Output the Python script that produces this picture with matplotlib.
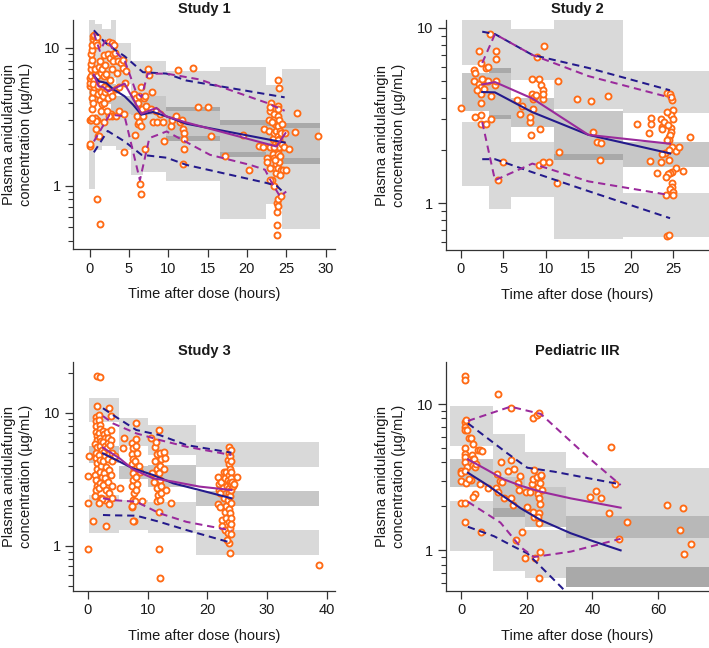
import matplotlib
matplotlib.use("Agg")
import matplotlib.pyplot as plt
from matplotlib.ticker import FixedLocator, LogLocator, NullFormatter, FixedFormatter
import numpy as np

plt.rcParams['font.family'] = ['Liberation Sans', 'DejaVu Sans']
plt.rcParams['font.size'] = 10

NAVY = '#241a8c'
PURPLE = '#9a2a9c'
ORANGE = '#ff6a14'
TXT = '#1a1a1a'

# ---------------- Study 1 ----------------
s1_bin_lo = [-0.08, 0.72, 1.57, 2.76, 3.39, 5.30, 6.79, 9.76, 16.55, 22.49, 24.52]
s1_bin_hi = [0.72, 1.57, 2.76, 3.39, 5.30, 6.79, 9.76, 16.55, 22.49, 24.52, 29.27]
s1_up_lo = [6.5, 6.5, 6.0, 6.0, 5.5, 4.5, 4.45, 3.51, 2.77, 2.7, 2.62]
s1_up_hi = [17.0, 15.0, 13.6, 17.0, 10.9, 8.0, 8.0, 6.85, 7.24, 5.42, 7.08]
s1_med_lo = [4.0, 4.0, 3.9, 3.4, 3.3, 3.28, 3.28, 2.13, 1.63, 1.55, 1.445]
s1_med_hi = [6.7, 6.6, 6.1, 5.5, 4.5, 4.45, 4.45, 3.73, 3.01, 2.9, 2.85]
s1_low_lo = [0.945, 1.83, 1.93, 1.93, 1.83, 1.2, 1.27, 1.09, 0.573, 0.74, 0.49]
s1_low_hi = [3.0, 3.3, 3.3, 3.4, 3.3, 3.28, 3.28, 2.28, 1.75, 1.65, 1.59]

s1_navy_med_t = [0.55, 1.19, 2.12, 2.97, 4.45, 5.52, 6.58, 8.06, 9.76, 12.3, 24.8]
s1_navy_med_v = [6.3, 5.72, 5.57, 5.04, 4.46, 3.88, 3.28, 3.43, 3.19, 2.82, 2.06]
s1_purple_med_t = [0.55, 1.15, 1.70, 2.42, 4.45, 6.58, 8.49, 9.76, 12.3, 23.76, 24.9]
s1_purple_med_v = [6.4, 5.27, 5.21, 4.84, 5.51, 3.33, 3.67, 3.19, 2.88, 1.93, 2.41]
s1_navy_hi_t = [0.55, 1.91, 3.18, 4.45, 6.79, 9.76, 12.3, 24.8]
s1_navy_hi_v = [13.4, 11.0, 9.72, 8.7, 6.66, 6.51, 5.8, 4.38]
s1_purple_hi_t = [0.55, 1.3, 2.1, 3.2, 4.5, 5.9, 6.6, 7.4, 9.8, 14.0, 22.5, 24.8]
s1_purple_hi_v = [12.8, 9.5, 11.5, 9.5, 8.0, 4.8, 4.4, 6.5, 6.5, 5.9, 4.0, 3.5]
s1_navy_lo_t = [0.55, 2.3, 4.45, 6.6, 9.8, 12.3, 22.5, 23.8, 24.8]
s1_navy_lo_v = [1.75, 2.5, 2.1, 1.68, 1.6, 1.42, 1.05, 1.0, 0.88]
s1_purple_lo_t = [0.55, 2.55, 4.45, 6.4, 7.6, 9.8, 15.3, 20.4, 22.3, 23.1, 24.2, 25.0]
s1_purple_lo_v = [2.1, 3.28, 3.2, 1.1, 2.22, 2.48, 1.68, 1.42, 1.31, 1.07, 0.84, 0.91]

s1_obs_t = [0.0, 0.0, 0.05, 0.0, 0.1, 0.1, 0.15, 0.2, 0.2, 0.25, 0.2, 0.3, 0.35, 0.4, 0.5, 0.55,
            0.3, 0.3, 0.4, 0.5, 0.6, 0.7, 0.8, 0.9, 0.9, 0.7, 0.6, 0.5, 0.9, 0.8, 0.9, 1.3, 0.7, 0.8, 0.2, 0.35,
            1.0, 1.1, 1.1, 1.2, 1.3, 1.3, 1.4, 1.5, 1.5, 1.6, 1.6, 1.7, 1.8, 1.8, 1.9, 1.9, 2.0, 2.0, 1.8, 1.1, 1.2, 1.5,
            2.1, 2.2, 2.3, 2.3, 2.5, 2.6, 2.6, 2.6, 2.7, 2.8, 2.8, 2.9, 2.9, 3.0, 3.0, 2.5, 2.2,
            3.1, 3.2, 3.3, 3.4, 3.5, 3.6, 3.7, 3.8, 4.0, 4.2, 4.3, 4.4, 4.4, 4.5, 4.6,
            5.6, 5.8, 5.9, 6.0, 6.1, 6.2, 6.3, 6.3, 6.4, 6.5, 6.5, 6.6, 6.7, 6.8, 6.9, 7.0, 7.1, 7.2, 7.4, 7.6,
            7.8, 7.9, 8.1, 8.4, 8.6,
            9.0, 9.3, 9.5, 10.3, 10.5, 11.0, 11.2, 11.5, 11.8, 11.9, 12.0, 12.0, 12.0, 11.9, 13.1, 13.8, 15.1,
            15.5, 17.2, 19.5, 20.3,
            21.5, 22.0, 22.2, 22.5, 22.6, 22.8, 22.8, 22.9, 23.0, 23.0, 23.1, 23.2, 23.3, 23.3, 23.4, 23.5,
            23.5, 23.5, 23.6, 23.6, 23.7, 23.7, 23.7, 23.8, 23.8, 23.8, 23.8, 23.9, 23.9, 23.9, 23.9, 23.9,
            23.9, 24.0, 24.0, 24.0, 24.0, 24.0, 24.0, 24.0, 24.0, 24.0, 24.1, 24.1, 24.1, 24.1, 24.1, 24.2,
            24.2, 24.3, 24.3, 24.3, 24.4, 24.5, 24.6, 24.7, 24.8, 25.0, 25.3, 26.1, 26.4, 29.1, 22.9, 23.0,
            23.2, 23.4, 23.6, 24.0, 24.2]
s1_obs_v = [1.95, 2.0, 3.0, 5.3, 5.6, 6.0, 6.3, 7.0, 7.6, 8.2, 9.0, 9.6, 10.5, 11.5, 12.1, 12.3,
            4.3, 3.6, 4.0, 4.8, 5.2, 6.5, 11.0, 12.0, 10.5, 7.0, 5.8, 5.5, 3.0, 2.6, 0.8, 0.53, 3.1, 2.95, 3.0, 3.1,
            6.2, 5.3, 4.6, 7.3, 8.0, 4.2, 6.6, 4.8, 5.5, 7.0, 3.9, 4.5, 5.2, 8.8, 6.2, 4.0, 4.8, 7.5, 2.9, 2.3, 2.3, 3.5,
            6.5, 5.0, 4.3, 9.0, 11.0, 4.8, 5.8, 8.5, 3.3, 10.8, 7.0, 4.5, 3.2, 9.0, 8.0, 3.2, 3.5,
            10.5, 9.2, 3.2, 5.0, 6.6, 8.0, 5.2, 3.5, 7.8, 8.2, 7.2, 1.75, 3.3, 5.6, 6.8,
            4.6, 2.35, 4.3, 3.2, 4.0, 2.8, 2.9, 4.5, 1.03, 0.87, 2.7, 5.2, 3.6, 3.2, 4.3, 4.5, 1.85, 3.8, 7.0, 6.4,
            3.6, 4.8, 2.9, 3.5, 2.9,
            3.3, 2.9, 2.1, 2.7, 3.0, 3.2, 6.9, 2.9, 3.0, 2.6, 2.4, 2.2, 1.85, 1.45, 7.2, 3.7, 3.7,
            2.3, 1.65, 2.35, 1.3,
            1.95, 1.9, 2.6, 1.6, 1.5, 2.5, 3.0, 3.5, 1.9, 1.35, 4.0, 1.1, 2.2, 1.7, 2.4, 1.6,
            1.0, 3.3, 2.8, 2.0, 2.5, 1.45, 1.25, 0.75, 0.65, 0.52, 0.44, 3.8, 3.2, 2.3, 2.1, 1.8,
            1.55, 5.8, 3.6, 2.9, 2.7, 1.95, 1.7, 1.35, 0.8, 0.72, 5.1, 3.0, 2.2, 1.9, 1.5, 2.5,
            1.65, 2.4, 1.3, 0.85, 2.8, 2.0, 1.3, 1.9, 2.4, 1.3, 1.85, 2.45, 3.4, 2.3, 1.1, 3.7,
            2.9, 1.9, 1.55, 2.15, 1.2]

# ---------------- Study 2 ----------------
s2_bin_lo = [0.08, 3.3, 5.85, 10.95, 19.03]
s2_bin_hi = [3.3, 5.85, 10.95, 19.03, 29.5]
s2_up_lo = [6.12, 5.5, 5.03, 3.46, 3.25]
s2_up_hi = [12.0, 12.0, 9.8, 12.0, 5.66]
s2_med_lo = [3.36, 3.0, 2.72, 1.76, 1.61]
s2_med_hi = [5.49, 5.86, 3.99, 3.36, 2.22]
s2_low_lo = [1.256, 0.924, 1.09, 0.626, 0.643]
s2_low_hi = [2.9, 3.18, 2.22, 1.9, 1.135]

s2_t = [2.5, 4.0, 8.4, 15.0, 24.6]
s2_navy_med_v = [4.3, 4.28, 3.3, 2.45, 1.92]
s2_purple_med_v = [4.75, 4.9, 3.95, 2.45, 2.18]
s2_navy_hi_v = [9.5, 9.2, 7.0, 5.9, 4.4]
s2_purple_hi_v = [6.3, 9.2, 7.0, 5.3, 4.0]
s2_navy_lo_v = [1.78, 1.78, 1.5, 1.17, 0.82]
s2_purple_lo_v = [2.9, 1.35, 1.68, 1.33, 1.11]

s2_obs_t = [0.0, 2.1, 2.4, 3.0, 3.2, 1.5, 1.7, 1.5, 2.1, 2.4, 2.7, 3.0, 3.2, 2.5, 2.3, 2.4, 2.4, 1.7,
            2.3, 3.0, 3.5, 3.5, 4.0, 4.1, 4.1, 4.1, 3.4, 4.4, 4.9, 2.7, 1.9,
            6.6, 7.0, 7.2, 8.1, 8.3, 8.3, 8.5, 8.5, 8.6, 8.8, 9.0, 9.2, 9.3, 9.4, 9.6, 9.6, 9.6, 8.2, 8.1,
            9.8, 9.2, 9.7, 10.4, 11.3, 11.4, 11.5, 13.7, 15.3, 15.5, 16.0, 16.5, 16.3, 17.3,
            20.7, 22.1, 22.4, 22.4, 22.3, 23.1, 23.5, 23.6, 23.6, 23.5, 23.9, 24.0, 24.2, 24.6, 24.8, 24.7,
            25.0, 24.7, 24.9, 24.5, 24.7, 24.7, 24.6, 24.5, 24.8, 24.5, 25.3, 25.7, 24.5, 25.3, 26.1, 24.8,
            24.6, 24.4, 24.8, 24.8, 24.6, 24.9, 25.0, 24.1, 24.2, 24.5, 27.0, 23.6, 24.2, 24.3, 24.4, 24.1]
s2_obs_v = [3.5, 7.4, 6.3, 5.86, 6.0, 5.74, 5.53, 5.0, 4.77, 4.57, 5.0, 5.0, 5.0, 5.1, 4.17, 3.7, 3.18, 3.08,
            2.81, 2.81, 3.0, 4.09, 4.7, 5.0, 6.6, 7.4, 9.2, 1.35, 1.72, 4.5, 4.4,
            3.87, 3.21, 3.57, 2.91, 5.1, 4.18, 3.9, 3.46, 4.05, 4.13, 6.83, 5.1, 2.66, 4.7, 4.41, 3.9, 4.2, 2.44, 3.08,
            7.85, 1.65, 1.71, 1.71, 1.3, 5.0, 1.96, 3.9, 3.8, 2.55, 2.24, 2.2, 1.77, 4.1,
            2.82, 2.5, 3.04, 2.84, 1.74, 1.48, 3.0, 2.73, 2.63, 1.72, 2.91, 1.92, 4.26, 4.19, 3.87, 4.05,
            3.39, 3.18, 3.0, 2.39, 2.67, 2.55, 2.44, 2.29, 2.1, 2.0, 1.98, 2.1, 1.77, 1.58, 1.53, 1.51,
            1.48, 1.46, 1.3, 1.24, 1.21, 1.16, 1.11, 1.11, 0.65, 0.66, 2.39, 1.9, 2.29, 3.3, 2.8, 1.4]

# ---------------- Study 3 ----------------
s3_bin_lo = [0.17, 5.2, 10.07, 18.07]
s3_bin_hi = [5.2, 10.07, 18.07, 38.77]
s3_up_lo = [8.56, 5.62, 4.8, 3.93]
s3_up_hi = [13.0, 9.06, 8.08, 5.98]
s3_med_lo = [4.16, 3.17, 2.78, 2.0]
s3_med_hi = [5.62, 3.97, 4.04, 2.59]
s3_low_lo = [1.24, 1.3, 1.24, 0.851]
s3_low_hi = [2.4, 2.2, 2.14, 1.31]

s3_med_t = [2.52, 5.31, 7.55, 10.9, 14.3, 18.7, 24.05]
s3_navy_med_v = [4.94, 4.28, 3.81, 3.4, 2.94, 2.62, 2.27]
s3_purple_med_v = [5.46, 4.53, 3.75, 3.21, 3.03, 2.78, 2.62]
s3_q_t = [2.52, 4.2, 8.1, 12.0, 16.5, 24.05]
s3_navy_hi_v = [10.8, 9.6, 7.41, 6.79, 5.71, 5.0]
s3_purple_hi_v = [9.43, 8.3, 6.99, 6.23, 5.55, 4.8]
s3_navy_lo_v = [1.70, 1.69, 1.68, 1.51, 1.31, 1.05]
s3_purple_lo_v = [2.27, 2.2, 2.14, 1.75, 1.51, 1.30]

s3_obs_t = [1.3, 1.3, 1.4, 1.4, 1.5, 1.5, 1.2, 1.6, 1.4, 1.3, 1.5, 1.6, 1.2, 1.4, 1.5, 1.3, 1.2,
            1.9, 1.9, 2.0, 2.1, 1.9, 2.0, 2.2, 2.0, 2.3, 1.9, 2.1, 2.2, 2.0, 2.3, 2.1, 1.9, 2.2,
            2.6, 2.7, 2.8, 2.6, 2.9, 2.7, 2.8, 2.6, 3.0, 2.7, 2.9, 2.6, 3.0, 2.8,
            3.2, 3.3, 3.4, 3.2, 3.5, 3.3, 3.6, 3.4, 3.6, 3.8, 3.9, 3.7, 4.0, 4.1, 3.9, 4.0, 4.1, 3.8,
            2.4, 3.5, 1.8,
            0.0, 0.17, 0.0, 0.0, 0.84, 1.5, 1.96, 1.5, 2.96, 3.6, 4.6, 5.3, 6.0, 5.8,
            7.4, 7.5, 7.3, 7.6, 7.4, 7.7, 7.5, 7.6, 7.4, 7.7, 7.5, 7.3, 8.0, 8.1, 8.2, 7.9, 8.2, 8.0,
            8.3, 8.1, 7.9, 8.6, 8.8, 9.0, 7.7, 8.0, 7.4, 7.55,
            11.3, 11.5, 11.2, 11.6, 11.4, 11.7, 11.5, 11.8, 11.6, 11.9, 12.0, 12.2, 12.1, 11.9, 12.1, 12.3,
            12.2, 12.0, 12.7, 12.9, 13.0, 12.8, 11.0, 10.8, 11.9, 11.4, 10.5, 11.9, 12.0, 14.0,
            21.8, 22.0, 21.9, 21.8, 22.3, 22.2, 22.5, 22.4, 22.6, 22.8, 22.9, 22.8, 23.0, 23.0, 23.1, 23.2,
            23.2, 23.3, 23.4, 23.4, 23.5, 23.5, 23.6, 23.6, 23.6, 23.7, 23.7, 23.7, 23.7, 23.7, 23.7, 23.8,
            23.8, 23.8, 23.8, 23.8, 23.8, 23.8, 23.9, 23.9, 23.9, 23.9, 23.9, 23.9, 23.9, 24.0, 24.0, 24.0,
            24.2, 24.3, 24.5, 25.0, 22.2, 23.3, 38.8]
s3_obs_v = [9.3, 8.7, 8.0, 7.2, 6.7, 6.2, 5.8, 5.5, 5.0, 4.6, 4.2, 3.8, 3.4, 3.1, 2.8, 2.6, 2.35,
            9.6, 8.8, 8.1, 7.5, 7.0, 6.5, 6.1, 5.6, 5.2, 4.8, 4.4, 4.0, 3.6, 3.3, 2.95, 2.7, 2.3,
            7.3, 6.9, 6.4, 6.0, 5.6, 5.1, 4.7, 4.3, 3.9, 3.5, 3.2, 2.85, 2.6, 2.2,
            7.1, 6.5, 5.9, 5.4, 4.9, 4.5, 3.7, 3.0, 2.5, 7.4, 6.2, 5.7, 5.0, 4.3, 3.4, 2.8, 2.3, 9.4,
            2.25, 2.05, 2.1,
            0.94, 4.75, 3.33, 2.08, 1.52, 18.8, 18.4, 11.2, 1.4, 10.8, 4.7, 2.73, 6.5, 5.45,
            5.9, 5.4, 4.9, 4.5, 4.1, 3.8, 3.5, 3.1, 2.8, 2.5, 2.2, 1.95, 6.3, 5.6, 5.0, 4.3, 3.9, 3.3,
            2.9, 2.6, 2.15, 4.0, 3.6, 2.15, 1.52, 8.3, 2.0, 1.52,
            5.5, 4.9, 4.3, 3.8, 3.3, 3.0, 2.7, 2.4, 2.15, 1.8, 5.0, 4.5, 4.0, 3.5, 3.1, 2.8,
            2.5, 2.2, 5.1, 4.6, 2.6, 3.8, 3.0, 3.5, 7.4, 6.0, 6.5, 0.94, 0.575, 2.1,
            3.3, 2.9, 2.6, 2.05, 3.0, 2.5, 1.55, 1.4, 2.7, 3.6, 3.2, 2.3, 1.8, 1.3, 2.0, 3.6,
            1.6, 2.8, 2.2, 1.25, 4.4, 3.1, 2.5, 1.9, 1.5, 5.5, 5.0, 4.1, 3.4, 2.7, 1.05, 4.7,
            3.8, 3.0, 2.35, 1.75, 1.35, 0.88, 5.2, 4.3, 3.6, 2.9, 2.1, 1.6, 1.22, 3.2, 2.6, 1.45,
            3.0, 2.8, 2.9, 3.3, 1.95, 1.1, 0.716]

# ---------------- Pediatric IIR ----------------
s4_bin_lo = [-3.45, 9.75, 19.4, 32.1]
s4_bin_hi = [9.75, 19.4, 32.1, 80.0]
s4_up_lo = [5.18, 3.2, 2.73, 1.21]
s4_up_hi = [9.74, 6.26, 4.74, 3.68]
s4_med_lo = [2.73, 1.70, 1.45, 0.564]
s4_med_hi = [4.2, 3.2, 2.73, 0.773]
s4_low_lo = [0.99, 0.726, 0.643, 0.564]
s4_low_hi = [2.18, 1.94, 1.38, 1.72]

s4_med_t = [2.1, 8.0, 13.1, 18.2, 24.3, 33.4, 40.5, 48.6]
s4_navy_med_v = [3.4, 2.8, 2.33, 1.94, 1.61, 1.31, 1.15, 1.0]
s4_purple_med_v = [4.2, 3.55, 3.06, 2.77, 2.52, 2.27, 2.12, 1.96]
s4_navy_hi_t = [2.1, 14.1, 20.2, 28.3, 48.6]
s4_navy_hi_v = [7.41, 4.62, 3.68, 3.46, 2.83]
s4_purple_hi_t = [2.1, 15.1, 24.3, 38.5, 48.6]
s4_purple_hi_v = [7.7, 9.64, 8.59, 4.38, 2.8]
s4_navy_lo_t = [2.1, 10.05, 16.1, 20.2, 24.3, 30.4, 33.4]
s4_navy_lo_v = [1.45, 1.25, 1.06, 0.954, 0.773, 0.564, 0.48]
s4_purple_lo_t = [2.1, 12.0, 18.2, 22.2, 33.4, 48.6]
s4_purple_lo_v = [2.15, 1.55, 1.05, 0.9, 0.98, 1.2]

s4_obs_t = [1.2, 1.2, 11.3, 15.1, 21.9, 23.0, 23.8, 45.6, 46.9, 48.1, 50.5, 62.8, 67.6, 66.6, 67.9, 70.0,
            39.3, 41.2, 42.5, 45.0,
            0.0, 0.0, 0.0, 0.0, 1.2, 1.2, 1.1, 1.2, 1.9, 2.4, 2.9, 3.5, 1.2, 1.2, 1.2, 1.2, 1.9, 1.1, 1.4, 2.9,
            3.2, 3.5, 3.8, 4.0, 4.2, 4.5, 5.2, 5.8, 6.5, 5.8, 4.3, 3.8, 1.2, 6.0, 8.2, 2.3, 1.4,
            10.6, 11.3, 11.1, 12.1, 11.9, 12.6, 13.1, 14.3, 15.1, 15.1, 15.8, 16.1, 16.6, 17.5, 17.9, 17.7,
            18.7, 19.5, 19.7, 20.2, 20.9, 21.5, 21.9, 22.2, 22.4, 22.2, 21.9, 23.0, 23.3, 23.3, 23.5, 23.7,
            23.8, 24.1, 24.1, 23.8, 23.7, 24.2, 24.5, 24.7, 24.3, 23.3]
s4_obs_v = [15.7, 14.7, 11.8, 9.5, 8.0, 8.5, 8.7, 5.1, 2.83, 1.19, 1.57, 2.04, 1.94, 1.38, 0.94, 1.1,
            2.33, 2.55, 2.3, 1.79,
            3.5, 3.37, 3.0, 2.12, 2.12, 7.6, 7.0, 6.7, 6.7, 5.85, 5.85, 5.35, 5.0, 4.6, 4.33, 4.05, 3.74, 3.5, 2.88, 3.03,
            4.5, 4.2, 3.84, 4.2, 3.74, 3.9, 4.87, 4.87, 4.82, 2.85, 2.43, 2.31, 1.57, 1.34, 2.69, 3.06, 7.8,
            2.66, 2.52, 3.33, 4.05, 2.98, 2.95, 2.27, 3.5, 4.15, 2.27, 2.04, 3.58, 1.18, 2.9, 3.23, 2.6,
            1.33, 0.89, 2.52, 1.97, 2.52, 2.85, 3.1, 3.55, 0.88, 1.7, 1.84, 3.2, 2.6, 2.45, 2.73, 2.27,
            1.79, 2.9, 0.98, 0.65, 1.53, 2.07, 3.25, 2.6, 3.27, 1.7]

X_LABEL = "Time after dose (hours)"
Y_LABEL = "Plasma anidulafungin\nconcentration (\u00b5g/mL)"

panels = [
    dict(title="Study 1", pos=[0.103, 0.6157, 0.3695, 0.3534], xlim=(-2.1, 31.2), ylim=(0.349, 15.9),
         xticks=[0, 5, 10, 15, 20, 25, 30],
         bins=(s1_bin_lo, s1_bin_hi, s1_up_lo, s1_up_hi, s1_med_lo, s1_med_hi, s1_low_lo, s1_low_hi),
         lines=[(s1_navy_hi_t, s1_navy_hi_v, NAVY, True), (s1_navy_lo_t, s1_navy_lo_v, NAVY, True),
                (s1_purple_hi_t, s1_purple_hi_v, PURPLE, True), (s1_purple_lo_t, s1_purple_lo_v, PURPLE, True),
                (s1_navy_med_t, s1_navy_med_v, NAVY, False), (s1_purple_med_t, s1_purple_med_v, PURPLE, False)],
         obs=(s1_obs_t, s1_obs_v)),
    dict(title="Study 2", pos=[0.6286, 0.6142, 0.3704, 0.3549], xlim=(-1.8, 29.1), ylim=(0.54, 11.07),
         xticks=[0, 5, 10, 15, 20, 25],
         bins=(s2_bin_lo, s2_bin_hi, s2_up_lo, s2_up_hi, s2_med_lo, s2_med_hi, s2_low_lo, s2_low_hi),
         lines=[(s2_t, s2_navy_hi_v, NAVY, True), (s2_t, s2_navy_lo_v, NAVY, True),
                (s2_t, s2_purple_hi_v, PURPLE, True), (s2_t, s2_purple_lo_v, PURPLE, True),
                (s2_t, s2_navy_med_v, NAVY, False), (s2_t, s2_purple_med_v, PURPLE, False)],
         obs=(s2_obs_t, s2_obs_v)),
    dict(title="Study 3", pos=[0.103, 0.088, 0.3695, 0.3539], xlim=(-2.5, 41.4), ylim=(0.456, 24.2),
         xticks=[0, 10, 20, 30, 40],
         bins=(s3_bin_lo, s3_bin_hi, s3_up_lo, s3_up_hi, s3_med_lo, s3_med_hi, s3_low_lo, s3_low_hi),
         lines=[(s3_q_t, s3_navy_hi_v, NAVY, True), (s3_q_t, s3_navy_lo_v, NAVY, True),
                (s3_q_t, s3_purple_hi_v, PURPLE, True), (s3_q_t, s3_purple_lo_v, PURPLE, True),
                (s3_med_t, s3_navy_med_v, NAVY, False), (s3_med_t, s3_purple_med_v, PURPLE, False)],
         obs=(s3_obs_t, s3_obs_v)),
    dict(title="Pediatric IIR", pos=[0.6286, 0.088, 0.3704, 0.3539], xlim=(-4.67, 75.3), ylim=(0.527, 19.6),
         xticks=[0, 20, 40, 60],
         bins=(s4_bin_lo, s4_bin_hi, s4_up_lo, s4_up_hi, s4_med_lo, s4_med_hi, s4_low_lo, s4_low_hi),
         lines=[(s4_navy_hi_t, s4_navy_hi_v, NAVY, True), (s4_navy_lo_t, s4_navy_lo_v, NAVY, True),
                (s4_purple_hi_t, s4_purple_hi_v, PURPLE, True), (s4_purple_lo_t, s4_purple_lo_v, PURPLE, True),
                (s4_med_t, s4_navy_med_v, NAVY, False), (s4_med_t, s4_purple_med_v, PURPLE, False)],
         obs=(s4_obs_t, s4_obs_v)),
]

fig = plt.figure(figsize=(7.09, 6.48), dpi=100)
fig.patch.set_facecolor('white')

for p in panels:
    ax = fig.add_axes(p['pos'])
    ax.set_yscale('log')
    ax.set_xlim(*p['xlim'])
    ax.set_ylim(*p['ylim'])
    blo, bhi, ulo, uhi, mlo, mhi, llo, lhi = p['bins']
    for i in range(len(blo)):
        xs = [blo[i], bhi[i]]
        ax.fill_between(xs, [ulo[i]] * 2, [uhi[i]] * 2, color='black', alpha=0.15, lw=0, zorder=1)
        ax.fill_between(xs, [llo[i]] * 2, [lhi[i]] * 2, color='black', alpha=0.15, lw=0, zorder=1)
        ax.fill_between(xs, [mlo[i]] * 2, [mhi[i]] * 2, color='black', alpha=0.22, lw=0, zorder=1)
    ot, ov = p['obs']
    ax.scatter(ot, ov, s=19, facecolor='white', edgecolor=ORANGE, linewidth=1.35, zorder=3, clip_on=True)
    for t, v, c, dashed in p['lines']:
        if dashed:
            ax.plot(t, v, color=c, lw=1.45, dashes=(3.6, 2.4), zorder=4)
        else:
            ax.plot(t, v, color=c, lw=1.5, zorder=5)

    ax.set_title(p['title'], fontsize=10.5, fontweight='bold', color=TXT, pad=5)
    ax.set_xlabel(X_LABEL, fontsize=10.5, color=TXT, labelpad=8)
    ax.set_ylabel(Y_LABEL, fontsize=10.5, color=TXT, labelpad=8, linespacing=1.25)
    ax.set_xticks(p['xticks'])
    ax.yaxis.set_major_locator(FixedLocator([1, 10]))
    ax.yaxis.set_major_formatter(FixedFormatter(['1', '10']))
    ax.yaxis.set_minor_locator(LogLocator(base=10, subs=np.arange(2, 10)))
    ax.yaxis.set_minor_formatter(NullFormatter())
    for s in ['top', 'right']:
        ax.spines[s].set_visible(False)
    for s in ['left', 'bottom']:
        ax.spines[s].set_linewidth(0.9)
        ax.spines[s].set_color('#333333')
    ax.tick_params(axis='both', which='major', length=5.5, width=0.9, color='#333333',
                   labelsize=10.5, labelcolor=TXT, pad=3.5)
    ax.tick_params(axis='y', which='minor', length=3.5, width=0.8, color='#333333')
    ax.tick_params(axis='x', which='minor', bottom=False)
    ax.set_facecolor('white')

fig.savefig('out.png', dpi=100, facecolor='white')
